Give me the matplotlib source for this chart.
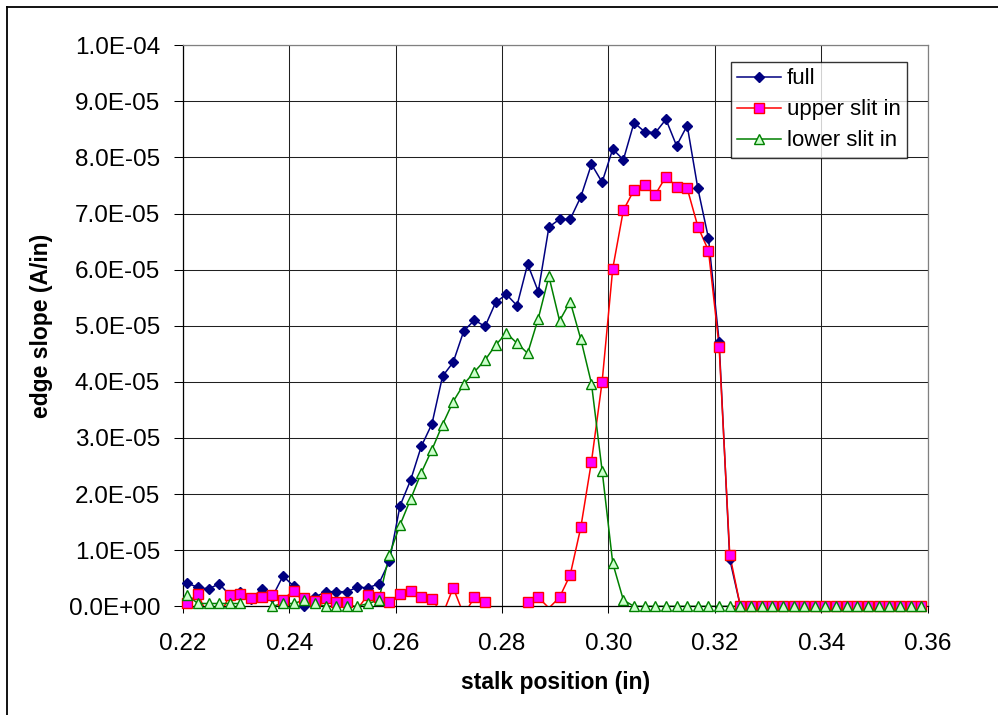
import numpy as np
import matplotlib.pyplot as plt
from matplotlib.lines import Line2D

plt.rcParams['font.family'] = ['Liberation Sans', 'DejaVu Sans']

# stalk positions (in), one sample every 0.002 in
x = 0.2208 + 0.002 * np.arange(70)

# edge slope in units of 1E-05 A/in (negative values fall below the axis)
full = [0.41, 0.34, 0.31, 0.40, 0.20, 0.26, 0.13, 0.31, 0.17, 0.54,
        0.36, 0.00, 0.16, 0.26, 0.26, 0.26, 0.34, 0.33, 0.40, 0.80,
        1.79, 2.25, 2.85, 3.25, 4.10, 4.35, 4.91, 5.10, 4.99, 5.42,
        5.56, 5.36, 6.10, 5.61, 6.76, 6.90, 6.90, 7.30, 7.88, 7.56,
        8.15, 7.96, 8.62, 8.46, 8.44, 8.68, 8.21, 8.57, 7.45, 6.56,
        4.72, 0.84, 0, 0, 0, 0, 0, 0, 0, 0,
        0, 0, 0, 0, 0, 0, 0, 0, 0, 0]
upper = [0.06, 0.22, -0.20, -0.20, 0.21, 0.22, 0.15, 0.16, 0.21, 0.12,
         0.28, 0.14, 0.09, 0.14, 0.08, 0.08, -0.05, 0.21, 0.16, 0.08,
         0.22, 0.28, 0.16, 0.13, -0.15, 0.33, -0.15, 0.16, 0.08, -0.20,
         -0.30, -0.20, 0.08, 0.16, -0.03, 0.16, 0.56, 1.41, 2.58, 4.00,
         6.02, 7.06, 7.42, 7.51, 7.34, 7.66, 7.48, 7.45, 6.77, 6.34,
         4.63, 0.92, 0, 0, 0, 0, 0, 0, 0, 0,
         0, 0, 0, 0, 0, 0, 0, 0, 0, 0]
lower = [0.20, 0.05, 0.05, 0.05, 0.05, 0.05, -0.10, -0.10, 0.00, 0.05,
         0.05, 0.11, 0.05, 0.00, 0.00, 0.00, 0.00, 0.05, 0.11, 0.92,
         1.45, 1.91, 2.38, 2.79, 3.24, 3.65, 3.96, 4.18, 4.39, 4.66,
         4.87, 4.69, 4.51, 5.13, 5.88, 5.09, 5.43, 4.76, 3.97, 2.42,
         0.77, 0.11, 0, 0, 0, 0, 0, 0, 0, 0,
         0, 0, 0, 0, 0, 0, 0, 0, 0, 0,
         0, 0, 0, 0, 0, 0, 0, 0, 0, 0]

labels = ['full', 'upper slit in', 'lower slit in']
xticks = [0.22, 0.24, 0.26, 0.28, 0.30, 0.32, 0.34, 0.36]
yticks = np.arange(0, 11) * 1e-5

styles = [
    dict(color='#000080', marker='D', ms=5.5, mfc='#000080', mec='#000080'),
    dict(color='#FF0000', marker='s', ms=6.5, mfc='#FF00FF', mec='#FF0000'),
    dict(color='#008000', marker='^', ms=7, mfc='#CCFFCC', mec='#008000'),
]

fig = plt.figure(figsize=(9.98, 7.15), dpi=100)
ax = fig.add_axes([183 / 998, 1 - 606.3 / 715, 744.6 / 998, 561 / 715])

handles = []
for vals, st, lab in zip([full, upper, lower], styles, labels):
    y = np.array(vals) * 1e-5
    ax.plot(x, y, color=st['color'], lw=1.1, zorder=3)
    ok = y >= 0
    ax.plot(x[ok], y[ok], ls='none', marker=st['marker'], ms=st['ms'],
            mfc=st['mfc'], mec=st['mec'], mew=1.0, clip_on=False, zorder=4)
    handles.append(Line2D([], [], color=st['color'], lw=1.1, marker=st['marker'],
                          ms=st['ms'], mfc=st['mfc'], mec=st['mec'], mew=1.0))

ax.set_xlim(0.22, 0.36)
ax.set_ylim(0, 1e-4)
ax.set_xticks(xticks)
ax.set_yticks(yticks)
ax.set_xticklabels([f"{v:.2f}" for v in xticks])
ax.set_yticklabels([f"{v:.1E}" for v in yticks])
ax.grid(True, color='#202020', lw=0.75, zorder=1)
ax.set_axisbelow(True)
ax.tick_params(axis='y', direction='out', length=6.5, width=0.75, pad=10, labelsize=17.5)
ax.tick_params(axis='x', direction='out', length=5, width=0.75, pad=14, labelsize=17.5)
for side in ['top', 'right']:
    ax.spines[side].set_color('#808080')
for side in ['left', 'bottom']:
    ax.spines[side].set_color('black')
for s in ax.spines.values():
    s.set_linewidth(0.9)

leg = fig.legend(handles, labels, loc='upper left',
                 bbox_to_anchor=(730.7 / 998, 1 - 61.7 / 715),
                 fontsize=16, frameon=True, fancybox=False, borderpad=0.3,
                 borderaxespad=0, handlelength=1.95, handletextpad=0.27,
                 labelspacing=0.45)
leg.get_frame().set_edgecolor('black')
leg.get_frame().set_linewidth(1.0)

fig.text(555.5 / 998, 1 - 683 / 715, 'stalk position (in)', ha='center', va='center',
         fontsize=16.5, fontweight='bold')
fig.text(41.7 / 998, 1 - 326 / 715, 'edge slope (A/in)', ha='center', va='center',
         rotation=90, fontsize=16.5, fontweight='bold')

# outer chart border (right and bottom edges fall outside the picture)
fig.add_artist(Line2D([7 / 998, 7 / 998], [0, 1 - 7 / 715], color='black', lw=1.3))
fig.add_artist(Line2D([7 / 998, 1], [1 - 7 / 715, 1 - 7 / 715], color='black', lw=1.3))

fig.savefig('out.png', dpi=100)
